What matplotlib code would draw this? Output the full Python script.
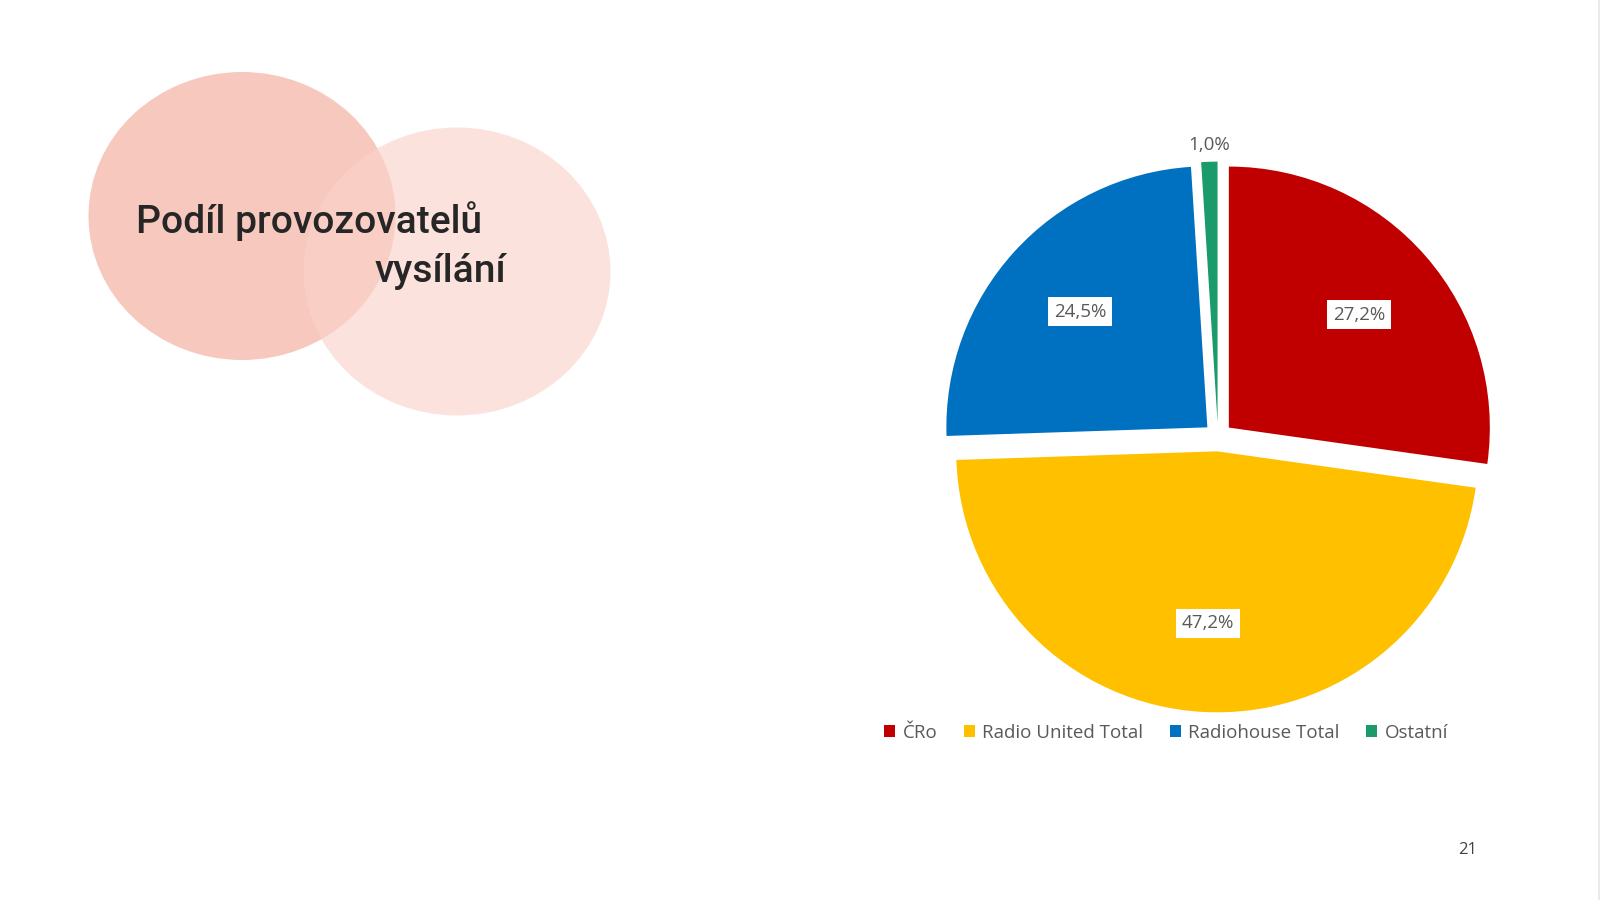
import matplotlib
matplotlib.use("Agg")
import matplotlib.pyplot as plt
import numpy as np
from matplotlib.patches import Ellipse

# data
kategorie = ["ČRo", "Radio United Total", "Radiohouse Total", "Ostatní"]
podil     = [27.2, 47.2, 24.5, 1.0]
barvy     = ["#C00000", "#FFC000", "#0070C0", "#1B9A6C"]
nadpis1   = "Podíl provozovatelů"
nadpis2   = "vysílání"
strana    = "21"

W, H = 1600, 900
fig = plt.figure(figsize=(W/100, H/100), dpi=100)
fig.patch.set_facecolor("white")

# background circles (pixel coords)
bg = fig.add_axes([0, 0, 1, 1])
bg.set_xlim(0, W); bg.set_ylim(H, 0); bg.axis("off")
bg.add_patch(Ellipse((242, 216), 307, 288, color=(247/255, 200/255, 190/255), lw=0, zorder=1))
bg.add_patch(Ellipse((457, 271.5), 307, 288, color=(249/255, 210/255, 202/255), alpha=0.64, lw=0, zorder=2))
bg.plot([1598.5, 1598.5], [0, H], color="#E6E6E6", lw=1.2, zorder=1)

# title, two lines, fitted to width
t1 = bg.text(136, 221, nadpis1, family="Roboto", weight="medium", fontsize=27,
             color="#262626", ha="left", va="center", zorder=5)
t2 = bg.text(375, 271, nadpis2, family="Roboto", weight="medium", fontsize=27,
             color="#262626", ha="left", va="center", zorder=5)
fig.canvas.draw()
w1 = t1.get_window_extent().width
fs = 27 * 347 / w1
t1.set_fontsize(fs); t2.set_fontsize(fs)

bg.text(1468, 850, strana, family="Open Sans", fontsize=12, color="#404040",
        ha="center", va="center")

# pie
cx, cy, r = 1218, 437, 261
lim = 1.25
side = 2 * lim * r
ax = fig.add_axes([(cx - side/2)/W, (H - cy - side/2)/H, side/W, side/H])

vybuch = 0.055
wedges, _ = ax.pie(podil, colors=barvy, startangle=90, counterclock=False,
                   explode=[vybuch]*len(podil), radius=1.0,
                   wedgeprops=dict(linewidth=0))
ax.set_xlim(-lim, lim); ax.set_ylim(-lim, lim); ax.set_aspect("equal"); ax.axis("off")

for w, v in zip(wedges, podil):
    ang = np.deg2rad((w.theta1 + w.theta2) / 2)
    lab = f"{v:.1f}%".replace(".", ",")
    if v < 5:
        d = 1.10
        ax.text(d*np.cos(ang), d*np.sin(ang), lab, family="Open Sans", fontsize=13.5,
                color="#595959", ha="center", va="baseline")
    else:
        x0, y0 = w.center
        d = 0.66
        ax.text(x0 + d*np.cos(ang), y0 + d*np.sin(ang), lab, family="Open Sans",
                fontsize=13.5, color="#595959", ha="center", va="center",
                bbox=dict(boxstyle="square,pad=0.3", fc="white", ec="none"))

fig.legend(wedges, kategorie, loc="center", bbox_to_anchor=(1166/W, 1 - 733/H),
           ncol=4, frameon=False, handlelength=0.6, handleheight=0.6,
           handletextpad=0.4, columnspacing=1.4,
           prop=dict(family="Open Sans", size=13.5), labelcolor="#595959")

fig.savefig("out.png", dpi=100, facecolor="white")
